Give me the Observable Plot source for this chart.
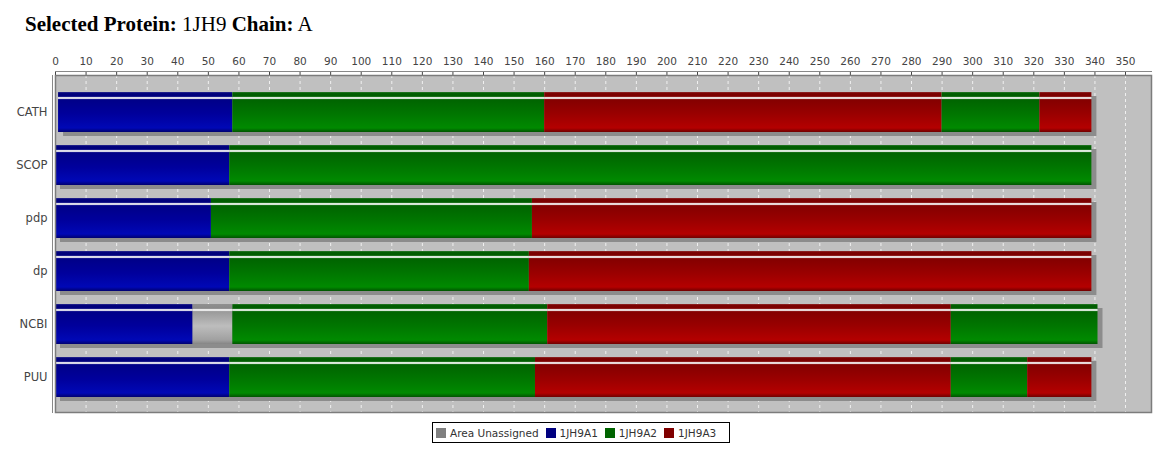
<!DOCTYPE html>
<html>
<head>
<meta charset="utf-8">
<script src="https://cdn.jsdelivr.net/npm/d3@7"></script>
<script src="https://cdn.jsdelivr.net/npm/@observablehq/plot@0.6"></script>
<style>
  html, body { margin: 0; padding: 0; background: #fff; }
  #wrap { position: relative; width: 1164px; height: 456px; overflow: hidden; }
  #title { position: absolute; left: 25px; top: 14px; font-family: "Liberation Serif", serif; font-size: 21px; line-height: 21px; color: #000; white-space: nowrap; }
  #title b { font-weight: bold; }
  #chart { position: absolute; left: 0; top: 44px; }
  #chart svg text { font-family: "DejaVu Sans", sans-serif; }
  #chart svg g[aria-label="x-axis tick label"] text, #chart svg g[aria-label="x-axis"] text { font-size: 10.5px; }
  #chart svg g[aria-label="y-axis tick label"] text, #chart svg g[aria-label="y-axis"] text { font-size: 11.5px; }
  #legend { position: absolute; left: 432px; top: 422px; width: 298px; height: 21px; box-sizing: border-box; border: 1px solid #000; font-family: "DejaVu Sans", sans-serif; font-size: 10.5px; color: #333; display: flex; align-items: center; padding-left: 3px; white-space: nowrap; }
  #legend .item { display: flex; align-items: center; margin-right: 7px; }
  #legend .sw { width: 10px; height: 10px; margin-right: 4px; }
</style>
</head>
<body>
<svg width="0" height="0" style="position:absolute">
  <defs>
    <linearGradient id="g-1JH9A1" x1="0" y1="0" x2="0" y2="1">
      <stop offset="0" stop-color="#2a2a90"/>
      <stop offset="0.04" stop-color="#00007a"/>
      <stop offset="0.11" stop-color="#00007e"/>
      <stop offset="0.13" stop-color="#d8d8e8"/>
      <stop offset="0.16" stop-color="#e8e8f0"/>
      <stop offset="0.19" stop-color="#000088"/>
      <stop offset="0.55" stop-color="#00009c"/>
      <stop offset="0.9" stop-color="#0008b6"/>
      <stop offset="1" stop-color="#000070"/>
    </linearGradient>
    <linearGradient id="g-1JH9A2" x1="0" y1="0" x2="0" y2="1">
      <stop offset="0" stop-color="#2a7a2a"/>
      <stop offset="0.04" stop-color="#005c00"/>
      <stop offset="0.11" stop-color="#005e00"/>
      <stop offset="0.13" stop-color="#d8e8d8"/>
      <stop offset="0.16" stop-color="#e8f0e8"/>
      <stop offset="0.19" stop-color="#006400"/>
      <stop offset="0.55" stop-color="#007600"/>
      <stop offset="0.9" stop-color="#008a00"/>
      <stop offset="1" stop-color="#005400"/>
    </linearGradient>
    <linearGradient id="g-1JH9A3" x1="0" y1="0" x2="0" y2="1">
      <stop offset="0" stop-color="#902a2a"/>
      <stop offset="0.04" stop-color="#7a0000"/>
      <stop offset="0.11" stop-color="#7e0000"/>
      <stop offset="0.13" stop-color="#e8d8d8"/>
      <stop offset="0.16" stop-color="#f0e8e8"/>
      <stop offset="0.19" stop-color="#840000"/>
      <stop offset="0.55" stop-color="#9a0000"/>
      <stop offset="0.9" stop-color="#b40000"/>
      <stop offset="1" stop-color="#700000"/>
    </linearGradient>
    <linearGradient id="g-AreaUnassigned" x1="0" y1="0" x2="0" y2="1">
      <stop offset="0" stop-color="#909090"/>
      <stop offset="0.11" stop-color="#888888"/>
      <stop offset="0.13" stop-color="#e8e8e8"/>
      <stop offset="0.16" stop-color="#f0f0f0"/>
      <stop offset="0.19" stop-color="#9a9a9a"/>
      <stop offset="0.55" stop-color="#bdbdbd"/>
      <stop offset="0.9" stop-color="#a0a0a0"/>
      <stop offset="1" stop-color="#858585"/>
    </linearGradient>
  </defs>
</svg>
<div id="wrap">
  <div id="title"><b>Selected Protein:</b> 1JH9 <b>Chain:</b> A</div>
  <div id="chart"></div>
  <div id="legend"></div>
</div>
<script>
// ---- data ----
const methods = ["CATH", "SCOP", "pdp", "dp", "NCBI", "PUU"];
const legendDomains = ["Area Unassigned", "1JH9A1", "1JH9A2", "1JH9A3"];
const legendColors = ["#808080", "#000080", "#006400", "#800000"];
const xTicks = [0, 10, 20, 30, 40, 50, 60, 70, 80, 90, 100, 110, 120, 130, 140, 150, 160, 170, 180, 190, 200, 210, 220, 230, 240, 250, 260, 270, 280, 290, 300, 310, 320, 330, 340, 350];

const cathBounds = [1, 58, 160, 290, 322, 339];
const cathDomains = ["1JH9A1", "1JH9A2", "1JH9A3", "1JH9A2", "1JH9A3"];
const scopBounds = [0, 57, 339];
const scopDomains = ["1JH9A1", "1JH9A2"];
const pdpBounds = [0, 51, 156, 339];
const pdpDomains = ["1JH9A1", "1JH9A2", "1JH9A3"];
const dpBounds = [0, 57, 155, 339];
const dpDomains = ["1JH9A1", "1JH9A2", "1JH9A3"];
const ncbiBounds = [0, 45, 58, 161, 293, 341];
const ncbiDomains = ["1JH9A1", "Area Unassigned", "1JH9A2", "1JH9A3", "1JH9A2"];
const puuBounds = [0, 57, 157, 293, 318, 339];
const puuDomains = ["1JH9A1", "1JH9A2", "1JH9A3", "1JH9A2", "1JH9A3"];

const allBounds = [cathBounds, scopBounds, pdpBounds, dpBounds, ncbiBounds, puuBounds];
const allDomains = [cathDomains, scopDomains, pdpDomains, dpDomains, ncbiDomains, puuDomains];

// ---- build tables ----
const segments = [];
const rows = [];
methods.forEach((m, i) => {
  const b = allBounds[i], d = allDomains[i];
  d.forEach((dom, j) => segments.push({method: m, start: b[j], end: b[j + 1], domain: dom}));
  rows.push({method: m, start: b[0], end: b[b.length - 1]});
});
const gradId = dom => "g-" + dom.replace(/\s+/g, "");

const chart = Plot.plot({
  width: 1164,
  height: 372,
  marginTop: 31,
  marginBottom: 4,
  marginLeft: 55,
  marginRight: 13,
  style: {fontFamily: "DejaVu Sans, sans-serif", fontSize: "10.5px", color: "#444", background: "transparent", overflow: "visible"},
  x: {domain: [0, 358.5], axis: "top", ticks: xTicks, tickSize: 4, tickPadding: 7, label: null, tickFormat: d => String(d)},
  y: {domain: methods, range: [41.5, 359.5], paddingInner: 0.245, paddingOuter: 0.1225, tickSize: 0, tickPadding: 8, label: null},
  color: {type: "identity"},
  marks: [
    Plot.frame({fill: "#c0c0c0"}),
    Plot.ruleX(xTicks, {stroke: "#f0f0f0", strokeDasharray: "3,3", strokeWidth: 1}),
    Plot.barX(rows, {x1: "start", x2: "end", y: "method", fill: () => "#8c8c8c", dx: 5, dy: 4}),
    Plot.barX(segments, {x1: "start", x2: "end", y: "method", fill: d => `url(#${gradId(d.domain)})`}),
    Plot.frame({stroke: "#7c7c7c", strokeWidth: 1.5}),
    Plot.frame({anchor: "top", insetTop: -4, stroke: "#888"}),
    Plot.frame({anchor: "left", insetLeft: -3, stroke: "#888"})
  ]
});
document.getElementById("chart").appendChild(chart);

// ---- legend ----
const leg = document.getElementById("legend");
legendDomains.forEach((name, i) => {
  const item = document.createElement("div");
  item.className = "item";
  const sw = document.createElement("div");
  sw.className = "sw";
  sw.style.background = legendColors[i];
  const t = document.createElement("span");
  t.textContent = name;
  item.appendChild(sw);
  item.appendChild(t);
  leg.appendChild(item);
});
</script>
</body>
</html>
